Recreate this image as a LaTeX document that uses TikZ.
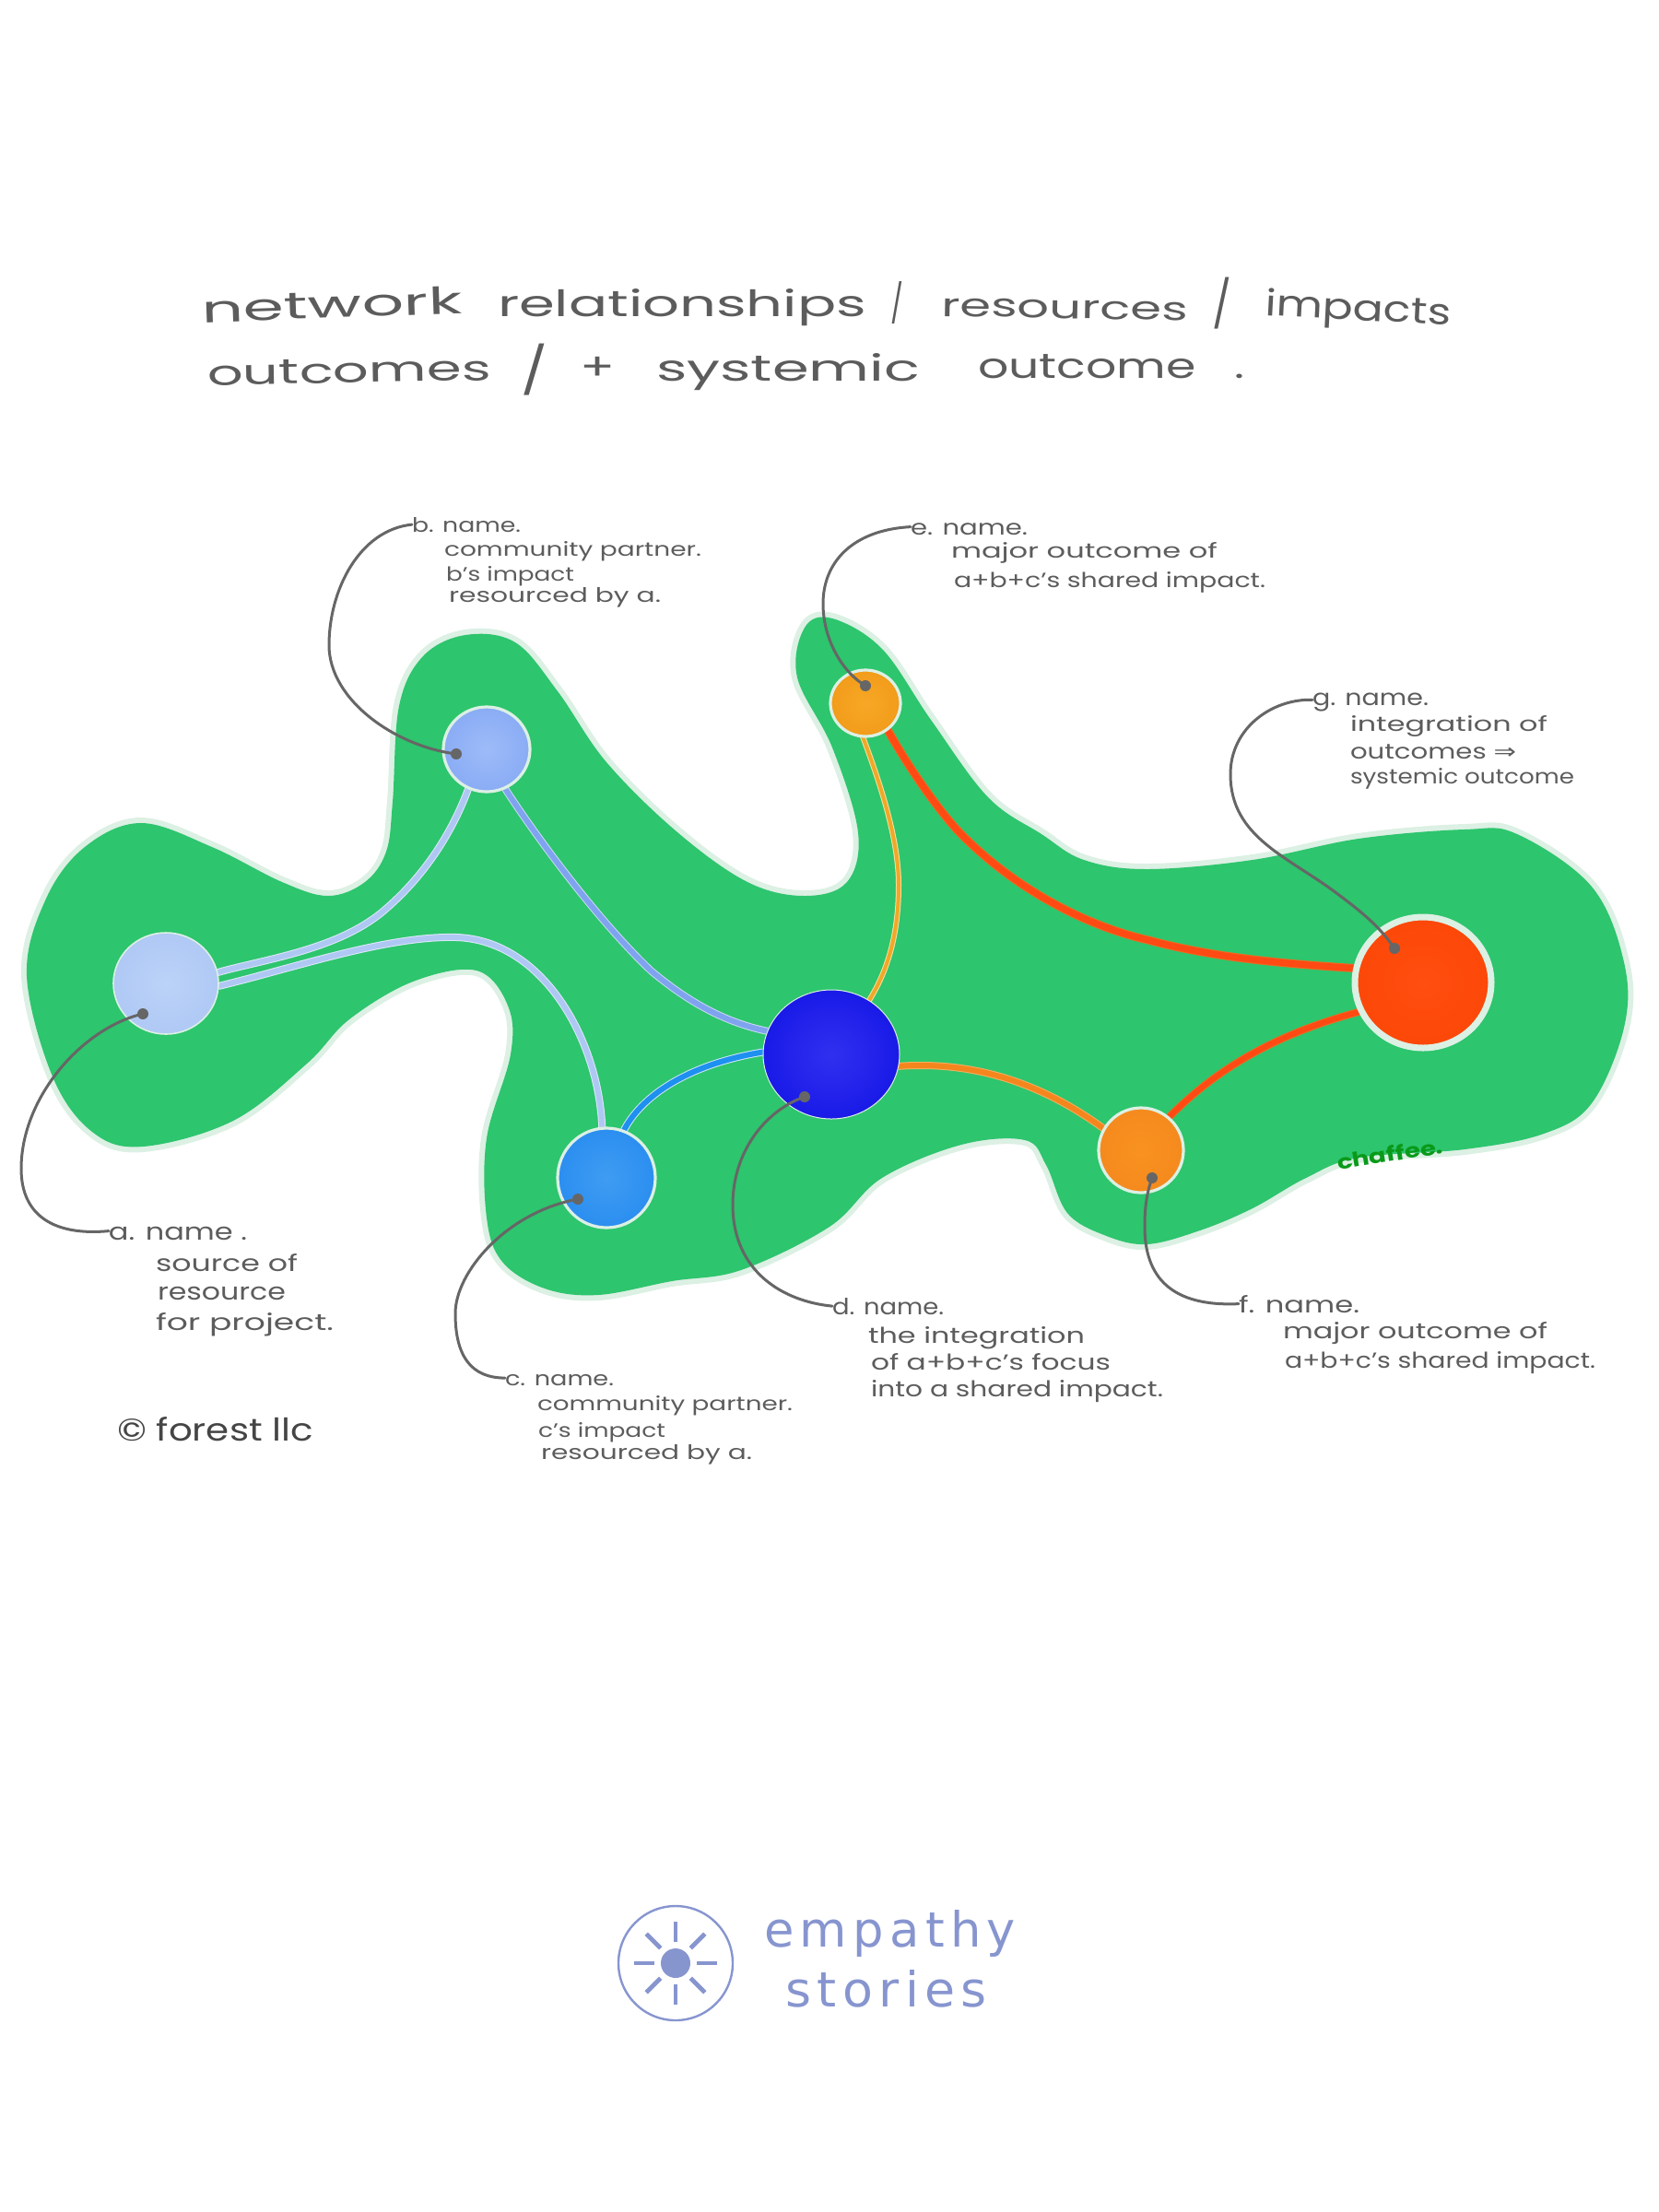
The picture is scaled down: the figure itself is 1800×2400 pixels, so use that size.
\documentclass[tikz,border=0pt]{standalone}
\usepackage{fontspec}
\usepackage{graphicx}
\setmainfont{Poppins}
\newfontfamily\djv{DejaVu Sans}
\newfontfamily\logofont[LetterSpace=12]{DejaVu Sans}
\usetikzlibrary{shapes.geometric,backgrounds}
\newdimen\pxu \pxu=.5pt
\newcommand\hw[3]{\resizebox{#1\pxu}{#2\pxu}{\vphantom{d}#3}}
\newcommand\tallslash[2]{\resizebox*{#1\pxu}{#2\pxu}{/}}
\definecolor{blobgreen}{HTML}{2DC56D}
\definecolor{blobpale}{HTML}{DCF0E4}
\definecolor{handgrey}{HTML}{5C5C5C}
\definecolor{leadgrey}{HTML}{666666}
\definecolor{logoblue}{HTML}{8795CF}
\definecolor{ain}{HTML}{BCD3F8}\definecolor{aout}{HTML}{AFC9F5}
\definecolor{bin}{HTML}{9DBBF8}\definecolor{bout}{HTML}{8AACF5}
\definecolor{cin}{HTML}{3F9CF2}\definecolor{cout}{HTML}{2B8EF0}
\definecolor{din}{HTML}{3030F0}\definecolor{dout}{HTML}{1A1AE8}
\definecolor{ein}{HTML}{F7A826}\definecolor{eout}{HTML}{F29C1A}
\definecolor{fin}{HTML}{F8921F}\definecolor{fout}{HTML}{F58A1E}
\definecolor{gin}{HTML}{FF4E10}\definecolor{gout}{HTML}{FC4808}
\definecolor{wpale}{HTML}{DDE8FA}\definecolor{wa}{HTML}{AFC8F3}
\definecolor{wbp}{HTML}{C9DAF5}\definecolor{wb}{HTML}{7FA3EE}
\definecolor{wcp}{HTML}{CDE6FA}\definecolor{wc}{HTML}{1E90F0}
\definecolor{wep}{HTML}{F7E0A0}\definecolor{we}{HTML}{F0A828}
\definecolor{wgp}{HTML}{F06A20}\definecolor{wg}{HTML}{FF4A14}
\definecolor{wfp}{HTML}{F3B060}\definecolor{wf}{HTML}{F5861E}
\definecolor{chaf}{HTML}{0A9A1A}
\tikzset{
  txt/.style={inner sep=0pt,outer sep=0pt,anchor=base west,text=handgrey},
  painted/.style n args={4}{ellipse,inner sep=0pt,outer sep=0pt,minimum width=#1*1pt,minimum height=#2*1pt,
     inner color=#3,outer color=#4,draw=blobpale,line width=1.6pt},
  leader/.style={draw=leadgrey,line width=1.5pt,line cap=round},
  wire/.style n args={3}{draw=#2,line width=#3*.5pt,line cap=round,
     preaction={draw=#1,line width=#3*.5pt+1pt}},
  logoray/.style={draw=logoblue,line width=2.4pt}
}
\begin{document}
\begin{tikzpicture}[x=.5pt,y=-.5pt]
\useasboundingbox (0,0) rectangle (1800,2400);

% network circles (size in pt = px/2)
\node[painted={57}{55}{ain}{aout},line width=.8pt] (na) at (180,1067) {};
\node[painted={47}{46}{bin}{bout}] (nb) at (528,813) {};
\node[painted={53}{54}{cin}{cout}] (nc) at (658,1278) {};
\node[painted={74}{70}{din}{dout},line width=.5pt] (nd) at (902,1144) {};
\node[painted={38}{36}{ein}{eout}] (ne) at (939,763) {};
\node[painted={46}{46}{fin}{fout}] (nf) at (1238,1248) {};
\node[painted={74}{71}{gin}{gout},line width=3.5pt] (ng) at (1544,1066) {};

% title
\node[txt,rotate=2] (t1) at (219,350) {\hw{283}{30}{network}};
\node[txt] (t2) at (540,343) {\hw{400}{30}{relationships}};
\node[txt,anchor=south west] (t3) at (966,352) {\tallslash{14}{46}};
\node[txt,rotate=-1] (t4) at (1021,343) {\hw{268}{26}{resources}};
\node[txt,anchor=south west] (t5) at (1315,357) {\tallslash{21}{56}};
\node[txt,rotate=-3] (t6) at (1372,342) {\hw{202}{30}{impacts}};
\node[txt,rotate=1] (t7) at (225,418) {\hw{308}{28}{outcomes}};
\node[txt,anchor=south west] (t8) at (565,429) {\tallslash{29}{56}};
\node[txt] (t9) at (629,412) {\hw{38}{30}{+}};
\node[txt] (t10) at (712,413) {\hw{286}{30}{systemic}};
\node[txt] (t11) at (1061,410) {\hw{289}{28}{outcome\ \ \ .}};

% labels
\node[txt] (la) at (118,1345) {\hw{150}{19}{a. name .}};
\node[txt] (la2) at (169,1379) {\hw{154}{19}{source of}};
\node[txt] (la3) at (171,1410) {\hw{139}{19}{resource}};
\node[txt] (la4) at (169,1443) {\hw{193}{19}{for project.}};

\node[txt] (lb) at (447,577) {\hw{118}{16}{b. name.}};
\node[txt] (lb2) at (482,603) {\hw{279}{16}{community partner.}};
\node[txt] (lb3) at (484,630) {\hw{139}{16}{b's impact}};
\node[txt] (lb4) at (487,653) {\hw{230}{16}{resourced by a.}};

\node[txt] (lc) at (548,1503) {\hw{118}{16}{c. name.}};
\node[txt] (lc2) at (583,1530) {\hw{277}{16}{community partner.}};
\node[txt] (lc3) at (584,1559) {\hw{138}{16}{c's impact}};
\node[txt] (lc4) at (587,1583) {\hw{229}{16}{resourced by a.}};

\node[txt] (ld) at (903,1426) {\hw{121}{18}{d. name.}};
\node[txt] (ld2) at (942,1457) {\hw{235}{18}{the integration}};
\node[txt] (ld3) at (945,1486) {\hw{260}{18}{of a+b+c's focus}};
\node[txt] (ld4) at (945,1515) {\hw{317}{18}{into a shared impact.}};

\node[txt] (le) at (988,580) {\hw{127}{17}{e. name.}};
\node[txt] (le2) at (1032,605) {\hw{289}{17}{major outcome of}};
\node[txt] (le3) at (1035,637) {\hw{338}{17}{a+b+c's shared impact.}};

\node[txt] (lf) at (1344,1424) {\hw{131}{19}{f. name.}};
\node[txt] (lf2) at (1392,1452) {\hw{287}{18}{major outcome of}};
\node[txt] (lf3) at (1394,1484) {\hw{337}{18}{a+b+c's shared impact.}};

\node[txt] (lg) at (1424,765) {\hw{126}{18}{g. name.}};
\node[txt] (lg2) at (1465,793) {\hw{214}{17}{integration of}};
\node[txt] (lg3) at (1465,823) {\hw{180}{17}{outcomes {\djv ⇒}}};
\node[txt] (lg4) at (1465,850) {\hw{243}{17}{systemic outcome}};

\node[txt,text=chaf,anchor=center,rotate=9] (chaffee) at (1508,1252) {\hw{116}{17}{\bfseries chaffee.}};
\node[txt,text=handgrey!75!black] (copy) at (127,1563) {\hw{213}{26}{© forest llc}};

% leader end points
\coordinate (da) at (155,1100);
\coordinate (db) at (495,818);
\coordinate (dc) at (627,1301);
\coordinate (dd) at (873,1190);
\coordinate (de) at (939,744);
\coordinate (df) at (1250,1278);
\coordinate (dg) at (1513,1029);

\begin{scope}[on background layer]
  % painted field
  \path[fill=blobgreen,preaction={draw=blobpale,line width=6pt,line join=round}]
    plot[smooth cycle,tension=.6] coordinates {
    (29,1058) (50,975) (92,919) (153,893) (230,919) (306,957) (356,972) (396,957) (419,924)
    (426,870) (433,766) (459,712) (505,689) (559,697) (605,750) (658,827)
    (735,903) (811,957) (873,972) (919,957) (931,903) (903,811) (865,735) (873,681)
    (903,671) (957,704) (1010,781) (1072,865) (1130,905) (1176,933) (1244,943) (1359,933)
    (1474,910) (1589,900) (1646,905) (1727,962) (1762,1044) (1762,1115) (1727,1197)
    (1675,1230) (1589,1247) (1474,1256) (1417,1278) (1359,1311) (1302,1335) (1244,1350)
    (1198,1340) (1158,1316) (1135,1264) (1112,1237) (1043,1242) (957,1278) (900,1331)
    (804,1378) (729,1390) (649,1405) (591,1398) (545,1369) (528,1321) (528,1235)
    (554,1144) (551,1091) (517,1053) (448,1065) (379,1106) (333,1154) (253,1216)
    (155,1244) (100,1228) (57,1168)};
  % wires
  \path[wire={wpale}{wa}{6}] (na.12) .. controls (290,1040) and (370,1030) .. (420,985) .. controls (460,950) and (490,905) .. (nb.245);
  \path[wire={wpale}{wa}{6}] (na.-3) .. controls (320,1050) and (420,1015) .. (495,1017) .. controls (590,1020) and (650,1130) .. (nc.95);
  \path[wire={wbp}{wb}{6}] (nb.-65) .. controls (570,890) and (640,990) .. (706,1053) .. controls (750,1090) and (790,1110) .. (nd.160);
  \path[wire={wcp}{wc}{6}] (nc.70) .. controls (695,1190) and (745,1155) .. (nd.178);
  \path[wire={wep}{we}{4}] (ne.-95) .. controls (955,850) and (975,910) .. (975,960) .. controls (975,1010) and (965,1050) .. (nd.55);
  \path[wire={wgp}{wg}{7}] (ne.-50) .. controls (990,840) and (1020,880) .. (1038,900) .. controls (1100,965) and (1180,1005) .. (1246,1020) .. controls (1320,1040) and (1400,1046) .. (ng.168);
  \path[wire={wfp}{wf}{6}] (nd.-10) .. controls (1030,1153) and (1110,1160) .. (nf.150);
  \path[wire={wgp}{wg}{6}] (nf.50) .. controls (1310,1170) and (1370,1125) .. (ng.-155);
\end{scope}

% leaders
\draw[leader] (la.west) .. controls (60,1341) and (23,1320) .. (23,1268) .. controls (23,1190) and (90,1115) .. (da);
\draw[leader] (lb.west) .. controls (390,575) and (357,640) .. (357,700) .. controls (357,760) and (430,810) .. (db);
\draw[leader] (lc.west) .. controls (510,1495) and (494,1470) .. (494,1425) .. controls (494,1380) and (550,1315) .. (dc);
\draw[leader] (ld.west) .. controls (850,1412) and (795,1380) .. (795,1307) .. controls (795,1250) and (830,1205) .. (dd);
\draw[leader] (le.west) .. controls (925,575) and (893,610) .. (893,655) .. controls (893,695) and (915,730) .. (de);
\draw[leader] (lf.west) .. controls (1270,1418) and (1242,1385) .. (1242,1331) .. controls (1242,1310) and (1244,1295) .. (df);
\draw[leader] (lg.west) .. controls (1380,758) and (1335,790) .. (1335,840) .. controls (1335,910) and (1400,930) .. (1454,972) .. controls (1485,995) and (1500,1010) .. (dg);
\foreach \d in {da,db,dc,dd,de,df,dg} \fill[leadgrey] (\d) circle (6);

% logo
\node[draw=logoblue,line width=1.2pt,circle,inner sep=0pt,minimum size=62pt] (logo) at (733,2130) {};
\node[fill=logoblue,circle,inner sep=0pt,minimum size=16pt] (sun) at (733,2130) {};
\foreach \a in {0,45,...,315} \draw[logoray] ([shift={(\a:23)}]sun.center) -- ([shift={(\a:45)}]sun.center);
\node[txt,text=logoblue] (emp) at (829,2112) {\hw{273}{40}{\logofont empathy}};
\node[txt,text=logoblue] (sto) at (852,2177) {\hw{219}{40}{\logofont stories}};
\end{tikzpicture}
\end{document}
